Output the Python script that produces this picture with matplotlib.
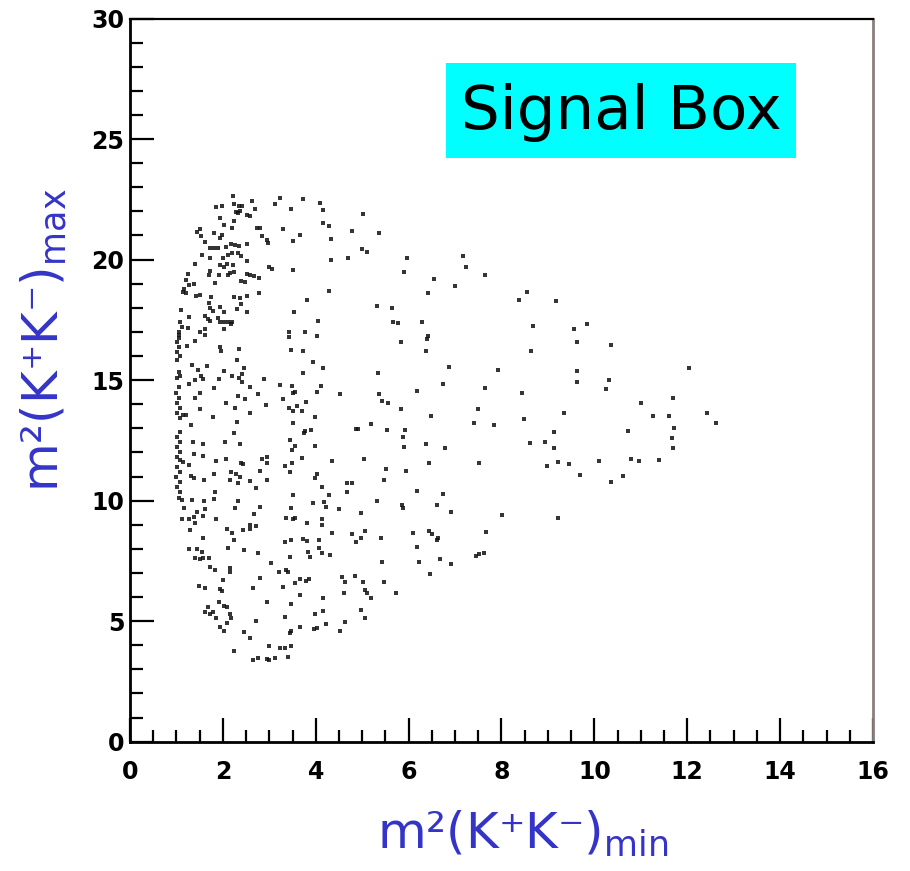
import matplotlib
matplotlib.use("Agg")
import matplotlib.pyplot as plt
from matplotlib.patches import Rectangle
from matplotlib.ticker import MultipleLocator

# (m2_min, m2_max) pairs, grouped by region
pts_upper = [
    (2.22, 22.62), (1.85, 22.17), (1.98, 22.24), (2.23, 22.31), (2.34, 22.23), (2.41, 22.24),
    (2.63, 22.44), (2.69, 22.09), (2.29, 21.99), (2.32, 21.92), (2.36, 22.02), (2.53, 21.86),
    (2.59, 21.79), (1.93, 21.72), (2.25, 21.58), (2.02, 21.44), (2.20, 21.30), (1.50, 21.26),
    (1.44, 21.16), (1.80, 21.09), (1.94, 20.91), (1.98, 21.00), (1.53, 20.96), (1.62, 20.72),
    (1.73, 20.50), (1.80, 20.50), (1.89, 20.50), (2.07, 20.54), (2.18, 20.64), (2.27, 20.61),
    (2.34, 20.58), (2.52, 20.64), (2.74, 21.33), (2.79, 21.30), (2.84, 20.96), (2.94, 20.82),
    (2.97, 20.68), (3.13, 22.30), (3.23, 22.57), (3.73, 22.51), (3.46, 22.10), (4.09, 22.34),
    (4.16, 22.06), (4.16, 21.51), (4.28, 21.41), (3.30, 21.27), (3.67, 21.03), (3.51, 20.75),
    (4.33, 20.86), (4.32, 19.99), (4.69, 20.06), (1.55, 20.20), (1.73, 20.08), (2.00, 20.06),
    (2.12, 20.20), (2.20, 20.26), (2.32, 20.26), (2.38, 20.13), (2.51, 19.95), (1.41, 19.81),
    (1.94, 19.78), (2.02, 19.71), (2.09, 19.81), (2.22, 19.78), (1.73, 19.53), (1.71, 19.34),
    (1.91, 19.37), (2.12, 19.37), (2.15, 19.43), (2.23, 19.48), (2.51, 19.39), (2.59, 19.34),
    (2.66, 19.30), (2.77, 19.23), (2.99, 19.71), (3.06, 19.61), (3.51, 19.57), (1.24, 19.39),
    (1.21, 19.16), (1.37, 18.98), (1.28, 18.95), (1.17, 18.78), (1.15, 18.67), (1.21, 18.60),
    (1.82, 19.02), (2.38, 19.12), (2.48, 19.06), (1.43, 18.47), (1.50, 18.51), (1.74, 18.43),
    (2.25, 18.43), (2.36, 18.40), (2.53, 18.47), (2.77, 18.60), (1.71, 18.19), (1.73, 18.01),
    (1.79, 17.87), (1.94, 18.05), (2.02, 17.82), (2.30, 17.95), (2.38, 18.15), (2.53, 17.84),
    (4.28, 18.70), (3.82, 18.33), (3.54, 17.84), (4.05, 17.46), (1.10, 17.91), (1.28, 17.60),
    (1.62, 17.64), (1.69, 17.54), (1.73, 17.46), (1.89, 17.57), (1.94, 17.43), (2.02, 17.40),
    (2.12, 17.43), (2.20, 17.40), (2.18, 17.32), (1.08, 17.40), (1.12, 17.22), (1.24, 17.18),
    (1.05, 17.01), (1.05, 16.88), (1.05, 16.74), (1.01, 16.60), (1.51, 17.01), (1.62, 17.12),
    (1.62, 16.88), (1.41, 16.63), (2.03, 17.12), (3.42, 17.01), (3.76, 17.01), (3.42, 16.77),
    (4.03, 16.81),
    (5.02, 21.88), (4.79, 21.19), (5.36, 21.09), (5.00, 20.44), (5.10, 20.33), (5.96, 20.06),
    (5.89, 19.50), (7.18, 20.13), (7.24, 19.71), (7.64, 19.37), (6.55, 19.19), (6.99, 18.92),
    (6.42, 18.63), (5.31, 18.09), (5.65, 18.01), (8.55, 18.67), (8.38, 18.33), (8.67, 17.26),
    (5.67, 17.39), (5.78, 17.36), (6.28, 17.40), (6.42, 16.81), (6.39, 16.71), (5.83, 16.56),
    (9.17, 18.30), (9.84, 17.32), (9.57, 17.12), (9.63, 16.60), (10.36, 16.46),
]

pts_middle = [
    (1.05, 16.39), (1.01, 16.18), (1.07, 15.98), (1.01, 15.84), (1.05, 15.35), (1.08, 15.15),
    (1.01, 15.08), (1.05, 14.73), (0.995, 14.45), (1.05, 14.25), (1.01, 14.04), (1.08, 13.83),
    (1.02, 13.62), (1.14, 13.56), (1.21, 13.56), (1.08, 13.42), (1.07, 12.86), (1.01, 12.66),
    (1.07, 12.45), (1.02, 12.24), (1.08, 12.03), (1.01, 11.83), (1.08, 11.69), (1.14, 11.62),
    (1.02, 11.41), (1.07, 11.20), (0.995, 11.00), (1.07, 10.79), (1.02, 10.58), (1.08, 10.37),
    (1.05, 10.10), (1.12, 10.03),
    (1.23, 16.42), (1.93, 16.39), (1.96, 16.21), (2.34, 16.29), (3.47, 16.25), (3.73, 16.21),
    (2.30, 15.84), (1.33, 15.63), (1.66, 15.59), (1.46, 15.42), (2.03, 15.38), (2.46, 15.49),
    (3.95, 15.74), (4.16, 15.52), (3.73, 15.28), (1.53, 15.15), (1.41, 15.01), (1.57, 15.05),
    (1.91, 15.05), (2.20, 15.15), (2.34, 15.10), (2.41, 15.24), (2.41, 14.91), (2.89, 15.05),
    (1.26, 14.83), (1.80, 14.69), (2.58, 14.70), (3.24, 14.80), (3.49, 14.77), (4.12, 14.77),
    (1.51, 14.48), (1.41, 14.25), (2.32, 14.32), (2.48, 14.22), (2.75, 14.41), (3.51, 14.45),
    (3.56, 14.52), (4.03, 14.52), (4.53, 14.41), (3.30, 14.21), (2.07, 14.04), (2.27, 13.83),
    (2.92, 13.97), (3.42, 13.86), (3.60, 13.94), (3.78, 14.08), (3.51, 13.72), (3.71, 13.72),
    (1.51, 13.79), (1.79, 13.49), (2.59, 13.62), (3.99, 13.46), (1.31, 13.14), (2.30, 13.28),
    (3.51, 13.21), (3.76, 12.89), (3.74, 12.79), (3.90, 12.93), (2.23, 12.82), (1.36, 12.45),
    (1.57, 12.34), (2.05, 12.45), (2.36, 12.34), (3.44, 12.52), (3.56, 12.27), (3.49, 12.10),
    (3.99, 12.28), (1.37, 11.92), (1.57, 11.87), (1.86, 11.65), (2.07, 11.73), (2.38, 11.55),
    (2.43, 11.51), (2.84, 11.73), (2.95, 11.83), (2.95, 11.55), (3.71, 11.76), (4.35, 11.65),
    (3.33, 11.45), (3.49, 11.55), (1.28, 11.48), (2.79, 11.23), (3.44, 11.18), (1.31, 11.04),
    (1.37, 10.93), (1.60, 10.86), (1.80, 11.10), (2.18, 11.18), (2.29, 11.10), (2.36, 11.00),
    (2.15, 10.86), (2.32, 10.72), (2.58, 10.82), (2.94, 10.86), (2.72, 10.54), (4.03, 11.10),
    (3.99, 10.93), (4.14, 10.58), (4.68, 10.72), (4.68, 10.37), (1.82, 10.37), (3.51, 10.24),
    (4.28, 10.24), (1.33, 10.03), (1.59, 9.99), (1.80, 10.07), (2.32, 9.99), (3.95, 9.89),
    (4.18, 9.96),
    (6.37, 16.21), (8.63, 16.21), (5.34, 15.28), (6.87, 15.56), (7.92, 15.42), (6.73, 14.83),
    (6.17, 14.55), (7.64, 14.69), (8.45, 14.48), (5.36, 14.41), (5.43, 14.14), (5.56, 14.07),
    (5.84, 13.79), (7.50, 13.79), (6.48, 13.53), (7.41, 13.21), (7.83, 13.14), (8.48, 13.39),
    (4.86, 12.96), (4.91, 12.96), (5.20, 13.18), (5.53, 12.92), (5.92, 12.93), (5.87, 12.66),
    (5.89, 12.24), (6.37, 12.34), (6.79, 12.17), (8.62, 12.38), (5.04, 11.72), (6.44, 11.55),
    (7.52, 11.55), (5.51, 11.31), (5.94, 11.23), (4.77, 10.72), (5.48, 10.86), (6.17, 10.40),
    (6.73, 10.26), (5.31, 10.00), (5.86, 9.82), (6.62, 9.82),
    (9.63, 15.38), (9.62, 14.94), (10.31, 15.01), (10.24, 14.63), (12.03, 15.52), (11.01, 14.04),
    (11.69, 14.25), (9.34, 13.62), (11.27, 13.53), (11.61, 13.53), (12.43, 13.62), (12.61, 13.21),
    (9.12, 12.86), (8.94, 12.45), (9.12, 12.20), (10.73, 12.89), (11.71, 13.00), (11.68, 12.59),
    (11.69, 12.17), (8.99, 11.44), (9.21, 11.59), (9.46, 11.51), (10.11, 11.66), (10.78, 11.73),
    (10.97, 11.66), (11.40, 11.69), (9.70, 11.07), (10.61, 11.02), (10.36, 10.76),
]

pts_lower = [
    (1.17, 9.71), (1.44, 9.54), (1.62, 9.65), (2.27, 9.71), (2.81, 9.75), (3.47, 9.68),
    (4.21, 9.75), (4.50, 9.65), (1.12, 9.24), (1.26, 9.24), (1.37, 9.34), (1.57, 9.38),
    (1.41, 9.06), (1.86, 9.24), (2.68, 9.43), (3.35, 9.27), (3.51, 9.24), (3.56, 9.27),
    (3.82, 9.06), (4.14, 9.24), (1.30, 8.78), (2.09, 8.82), (2.20, 8.64), (2.43, 8.78),
    (2.58, 8.82), (2.59, 8.99), (2.72, 8.96), (4.14, 8.99), (4.35, 8.64), (1.57, 8.44),
    (2.25, 8.37), (3.33, 8.27), (3.46, 8.37), (3.73, 8.41), (3.82, 8.33), (4.07, 8.37),
    (4.07, 8.05), (1.28, 7.98), (1.44, 7.99), (1.55, 7.86), (2.12, 8.05), (2.45, 7.95),
    (3.83, 7.86), (3.87, 7.68), (4.14, 7.81), (4.30, 7.75), (1.41, 7.61), (1.50, 7.58),
    (1.57, 7.63), (1.71, 7.61), (2.75, 7.81), (3.44, 7.65), (1.73, 7.26), (1.84, 7.12),
    (2.15, 7.22), (2.16, 7.03), (3.04, 7.40), (3.20, 7.03), (3.35, 7.12), (3.40, 7.05),
    (2.81, 6.78), (3.67, 6.75), (3.78, 6.67), (3.85, 6.75), (3.55, 6.57), (4.57, 6.85),
    (4.62, 6.61), (2.00, 6.71), (1.48, 6.47), (1.62, 6.39), (1.93, 6.33), (1.98, 6.25),
    (2.65, 6.39), (3.30, 6.43), (4.61, 6.15), (3.67, 6.09), (4.15, 5.95), (1.91, 5.81),
    (2.02, 5.64), (2.09, 5.60), (2.94, 5.81), (3.47, 5.70), (1.69, 5.60), (1.62, 5.39),
    (1.73, 5.28), (1.79, 5.37), (1.86, 5.12), (2.16, 5.28), (2.18, 5.15), (2.09, 4.91),
    (3.99, 5.28), (4.15, 5.42), (3.33, 5.19), (2.72, 5.02), (3.66, 4.77), (3.96, 4.66),
    (4.03, 4.70), (4.23, 4.87), (4.62, 4.95), (4.53, 4.59), (1.94, 4.77), (2.02, 4.59),
    (2.45, 4.54), (3.44, 4.49), (3.47, 4.59), (2.59, 4.29), (2.23, 3.76), (2.99, 3.98),
    (3.22, 3.90), (3.33, 3.90), (3.47, 3.98), (2.65, 3.39), (2.75, 3.49), (2.94, 3.43),
    (2.99, 3.39), (3.13, 3.46), (3.40, 3.53),
    (5.87, 9.71), (6.91, 9.52), (8.02, 9.41), (4.98, 9.47), (4.79, 8.60), (4.98, 8.46),
    (5.07, 8.76), (4.86, 8.30), (5.40, 8.44), (6.10, 8.64), (6.44, 8.74), (6.51, 8.60),
    (6.63, 8.46), (6.62, 8.37), (6.17, 8.09), (7.66, 8.71), (5.43, 7.44), (6.22, 7.47),
    (6.68, 7.58), (6.91, 7.36), (7.45, 7.72), (7.52, 7.77), (7.63, 7.81), (4.84, 6.89),
    (5.02, 6.64), (5.46, 6.61), (6.46, 6.94), (5.05, 6.29), (5.10, 6.15), (5.20, 5.97),
    (5.72, 6.15), (4.97, 5.46), (5.07, 5.12),
    (9.22, 9.27),
]

x_ticks = [0, 2, 4, 6, 8, 10, 12, 14, 16]
y_ticks = [0, 5, 10, 15, 20, 25, 30]
label_color = "#3434c8"

pts = pts_upper + pts_middle + pts_lower
m2_min = [p[0] for p in pts]
m2_max = [p[1] for p in pts]

plt.rcParams["mathtext.fontset"] = "dejavusans"
fig = plt.figure(figsize=(9.10, 8.71), dpi=100)
ax = fig.add_axes([130 / 910, 1 - 741.7 / 871, 743 / 910, (741.7 - 18.5) / 871])

ax.scatter(m2_min, m2_max, s=6, marker="s", color="#111111", alpha=0.85, linewidths=0)

ax.set_xlim(0, 16)
ax.set_ylim(0, 30)
ax.set_xticks(x_ticks)
ax.set_yticks(y_ticks)
ax.xaxis.set_minor_locator(MultipleLocator(0.5))
ax.yaxis.set_minor_locator(MultipleLocator(1))
ax.tick_params(which="both", direction="in", width=1.6, colors="black",
               top=False, right=False)
ax.tick_params(which="major", length=17)
ax.tick_params(which="minor", length=9)
ax.tick_params(axis="x", which="major", pad=13)
ax.tick_params(axis="y", which="major", pad=4)
for lab in ax.get_xticklabels() + ax.get_yticklabels():
    lab.set_fontweight("bold")
    lab.set_fontsize(17)
    lab.set_family("DejaVu Sans")

for side in ["left", "bottom"]:
    ax.spines[side].set_linewidth(2.0)
    ax.spines[side].set_color("black")
ax.spines["top"].set_linewidth(1.6)
ax.spines["top"].set_color("black")
ax.spines["right"].set_linewidth(2.0)
ax.spines["right"].set_color("#8a7f7f")

fig.text(523 / 910, 1 - 834 / 871, "m²(K⁺K⁻)$_{\\mathrm{min}}$", color=label_color,
         fontsize=36, ha="center", va="center", family="DejaVu Sans")
fig.text(44 / 910, 1 - 340 / 871, "m²(K⁺K⁻)$_{\\mathrm{max}}$", color=label_color,
         fontsize=36, ha="center", va="center", rotation=90, family="DejaVu Sans")

fig.patches.append(Rectangle((446 / 910, 1 - 158 / 871), 350 / 910, 95 / 871,
                             transform=fig.transFigure, facecolor="#00ffff",
                             edgecolor="none", zorder=5))
fig.text(621 / 910, 1 - 112 / 871, "Signal Box", color="black", fontsize=44,
         ha="center", va="center", zorder=6)

fig.savefig("out.png", dpi=100)
